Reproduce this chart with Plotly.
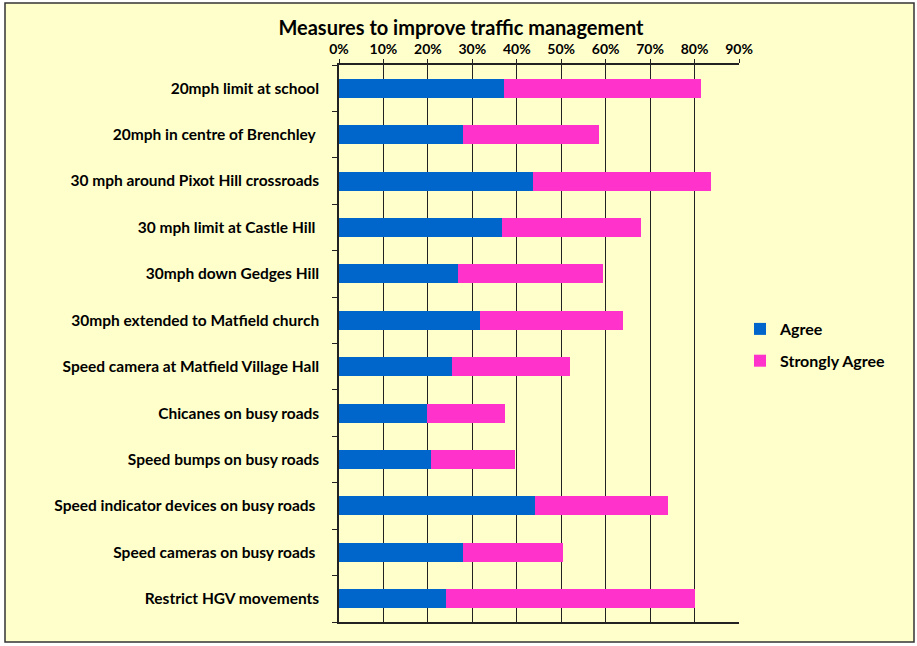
import plotly.graph_objects as go

categories = [
    "20mph limit at school",
    "20mph in centre of Brenchley ",
    "30 mph around Pixot Hill crossroads",
    "30 mph limit at Castle Hill ",
    "30mph down Gedges Hill",
    "30mph extended to Matfield church",
    "Speed camera at Matfield Village Hall",
    "Chicanes on busy roads",
    "Speed bumps on busy roads",
    "Speed indicator devices on busy roads ",
    "Speed cameras on busy roads ",
    "Restrict HGV movements",
]
agree = [37.1, 27.9, 43.7, 36.6, 26.8, 31.7, 25.5, 19.9, 20.8, 44.1, 27.9, 24.1]
strongly_agree = [44.3, 30.7, 40.1, 31.4, 32.5, 32.1, 26.5, 17.5, 18.7, 29.9, 22.4, 56.1]
x_ticks = [0, 10, 20, 30, 40, 50, 60, 70, 80, 90]
x_tick_labels = [f"{v}%" for v in x_ticks]

FONT = "Lato"

fig = go.Figure()
fig.add_trace(go.Bar(y=categories, x=agree, name="<b>Agree</b>", orientation="h",
                     legendgroup="a",
                     marker=dict(color="#0066CC", line=dict(width=0))))
fig.add_trace(go.Bar(y=categories, x=strongly_agree, name="<b>Strongly Agree</b>", orientation="h",
                     legendgroup="b",
                     marker=dict(color="#FF33CC", line=dict(width=0))))

W, H = 917, 646
PL, PR, PT, PB = 339, 178, 65, 24
pw, ph = W - PL - PR, H - PT - PB
fig.update_layout(
    width=W, height=H,
    barmode="stack",
    bargap=0.59,
    paper_bgcolor="white",
    plot_bgcolor="#FFFFCC",
    margin=dict(l=PL, r=PR, t=PT, b=PB, autoexpand=False),
    font=dict(family=FONT, color="black", size=15),
    title=dict(text="<b>Measures to improve traffic management</b>",
               x=461 / W, xanchor="center", y=1 - 28 / H, yanchor="middle",
               font=dict(size=20, family=FONT, color="black")),
    legend=dict(x=(740 - PL) / pw, xanchor="left", y=1 - (345 - PT) / ph, yanchor="middle",
                traceorder="grouped", bgcolor="rgba(0,0,0,0)",
                font=dict(size=16, family=FONT), itemwidth=30,
                tracegroupgap=8),
    showlegend=True,
)
fig.update_xaxes(
    range=[0, 90], side="top",
    tickvals=x_ticks, ticktext=[f"<b>{t}</b>" for t in x_tick_labels],
    tickfont=dict(size=14, family=FONT),
    showgrid=True, gridcolor="#222222", gridwidth=1,
    showline=True, linecolor="#222222", linewidth=1.5, mirror=True,
    ticks="outside", ticklen=4, tickcolor="#222222",
    zeroline=False, fixedrange=True,
)
fig.update_yaxes(
    autorange="reversed",
    tickvals=categories, ticktext=[f"<b>{c}</b>" for c in categories],
    tickfont=dict(size=15.5, family=FONT),
    showline=True, linecolor="#222222", linewidth=1.5,
    ticks="outside", tickson="boundaries", ticklen=5, tickcolor="#222222",
    ticklabelstandoff=15,
    showgrid=False, fixedrange=True,
)
fig.add_shape(type="rect", xref="paper", yref="paper",
              x0=-(PL - 5) / pw, x1=1 + (PR - 3) / pw,
              y0=-(PB - 4) / ph, y1=1 + (PT - 3) / ph,
              fillcolor="#FFFFCC", line=dict(color="#333333", width=1.5), layer="below")

fig.write_html("out.html", config={"displayModeBar": False},
               post_script="document.body.style.margin='0';document.body.style.padding='0';")
